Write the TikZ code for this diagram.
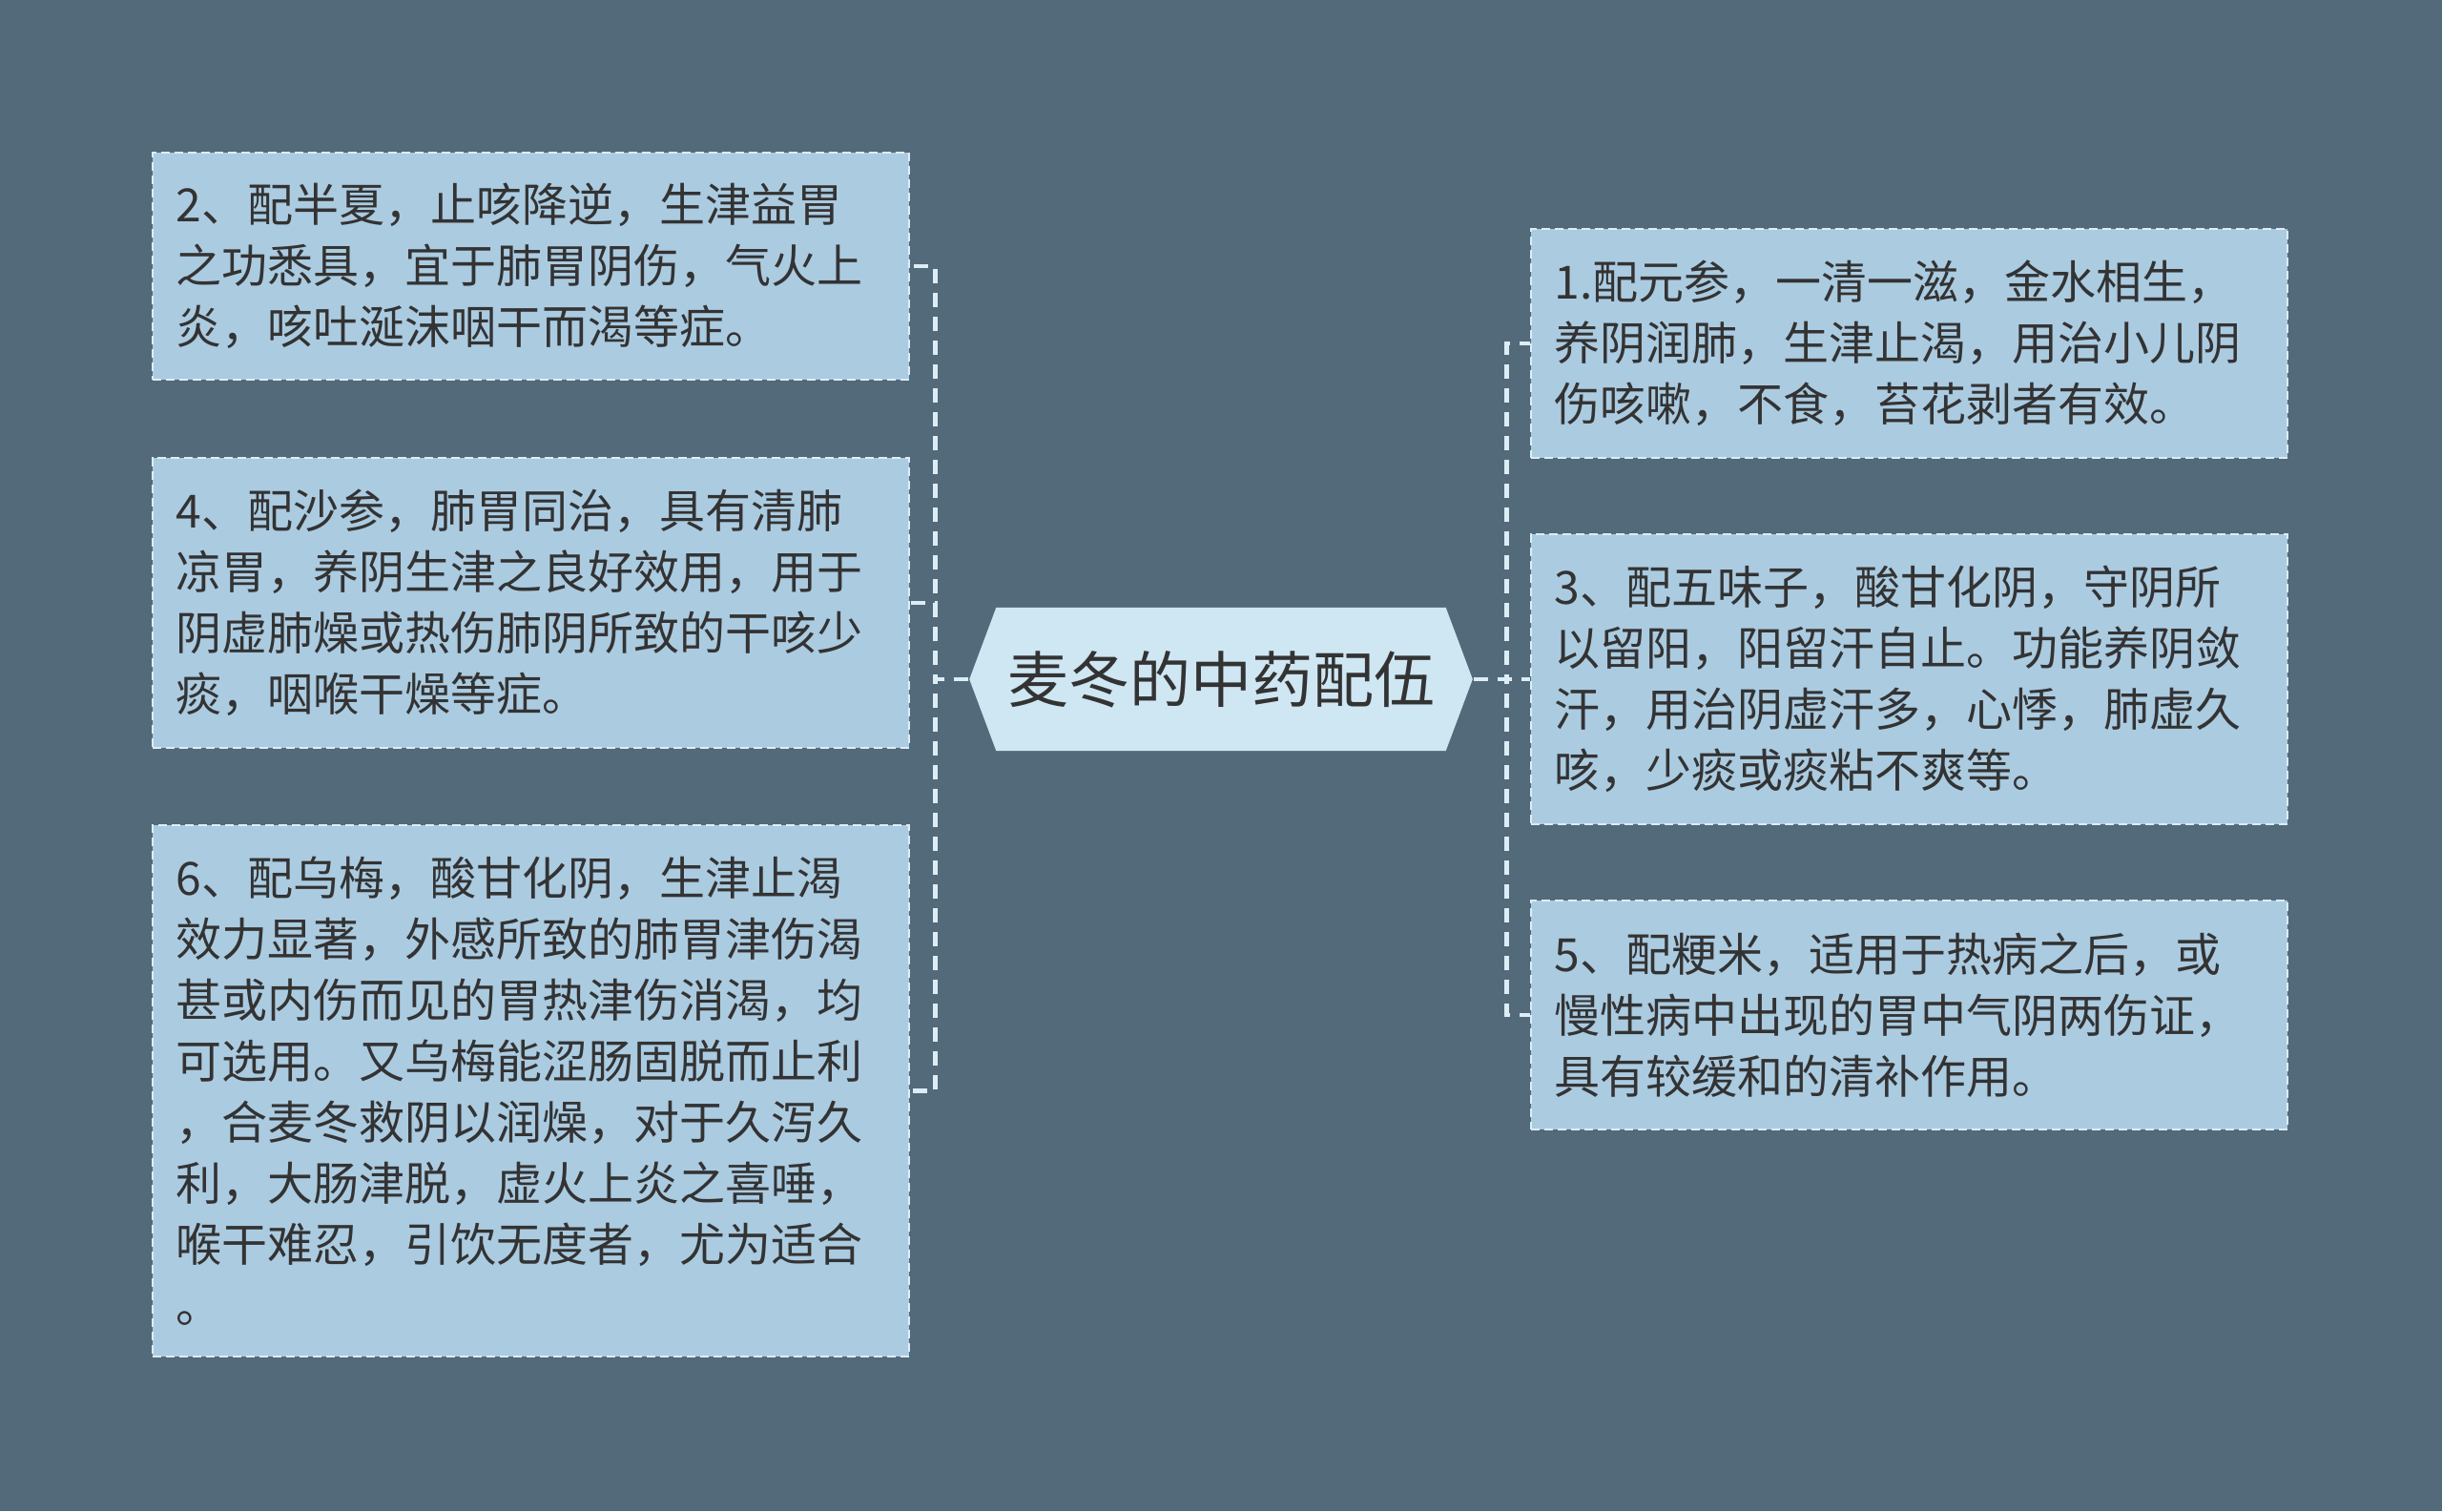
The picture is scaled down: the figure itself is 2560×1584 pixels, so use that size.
\documentclass[tikz,border=0pt]{standalone}
\usepackage{fontspec}
\setmainfont{Noto Sans CJK SC}
\usetikzlibrary{shapes.symbols}
\definecolor{bgslate}{HTML}{536A7A}
\definecolor{leaffill}{HTML}{ABCBE1}
\definecolor{rootfill}{HTML}{CFE6F3}
\definecolor{linkline}{HTML}{DCEDF7}
\definecolor{inktext}{HTML}{333333}
\tikzset{
    leaf/.style={rectangle, fill=leaffill, draw=linkline, line width=0.6pt,
    	dash pattern=on 0.09cm off 0.05cm, text width=7.43cm, align=left,
    	inner xsep=0.25cm, inner ysep=0pt, text=inktext,
    	font=\fontsize{13.65pt}{18.2pt}\selectfont}
}
\tikzset{
    root/.style={signal, signal to=west and east, signal pointer angle=139,
    	fill=rootfill, minimum width=5.1cm, minimum height=1.5cm,
    	text=inktext, font=\fontsize{18.2pt}{22pt}\selectfont}
}
\tikzset{
    link/.style={draw=linkline, line width=1.3pt,
    	dash pattern=on 0.15cm off 0.1cm}
}

\begin{document}
\begin{tikzpicture}[x=0.01cm, y=-0.01cm]
	\fill[bgslate] (0,0) rectangle (2560,1584);

	\node[root] (root) at (1280,712) {麦冬的中药配伍};

	\node[leaf, minimum height=2.38cm] (b2) at (556.5,279)
		{2、配半夏，止咳降逆，生津益胃\\之功悉具，宜于肺胃阴伤，气火上\\炎，咳吐涎沫咽干而渴等症。};
	\node[leaf, minimum height=3.04cm] (b4) at (556.5,632)
		{4、配沙参，肺胃同治，具有清肺\\凉胃，养阴生津之良好效用，用于\\阴虚肺燥或热伤肺阴所致的干咳少\\痰，咽喉干燥等症。};
	\node[leaf, minimum height=5.57cm] (b6) at (556.5,1143.5)
		{6、配乌梅，酸甘化阴，生津止渴\\效力显著，外感所致的肺胃津伤渴\\甚或内伤而见的胃热津伤消渴，均\\可选用。又乌梅能涩肠固脱而止利\\，合麦冬救阴以润燥，对于久泻久\\利，大肠津脱，虚火上炎之喜唾，\\喉干难忍，引饮无度者，尤为适合\\。};

	\node[leaf, minimum height=2.40cm] (b1) at (2001.5,360)
		{1.配元参，一清一滋，金水相生，\\养阴润肺，生津止渴，用治小儿阴\\伤咳嗽，不食，苔花剥者有效。};
	\node[leaf, minimum height=3.04cm] (b3) at (2001.5,712)
		{3、配五味子，酸甘化阴，守阴所\\以留阳，阳留汗自止。功能养阴敛\\汗，用治阴虚汗多，心悸，肺虚久\\咳，少痰或痰粘不爽等。};
	\node[leaf, minimum height=2.40cm] (b5) at (2001.5,1064)
		{5、配粳米，适用于热病之后，或\\慢性病中出现的胃中气阴两伤证，\\具有较缓和的清补作用。};

	\draw[link] (root.west) -- ++(-35,0) |- (b2.east);
	\draw[link] (root.west) -- ++(-35,0) |- (b4.east);
	\draw[link] (root.west) -- ++(-35,0) |- (b6.east);
	\draw[link] (root.east) -- ++(35,0) |- (b1.west);
	\draw[link] (root.east) -- ++(35,0) |- (b3.west);
	\draw[link] (root.east) -- ++(35,0) |- (b5.west);
\end{tikzpicture}
\end{document}
